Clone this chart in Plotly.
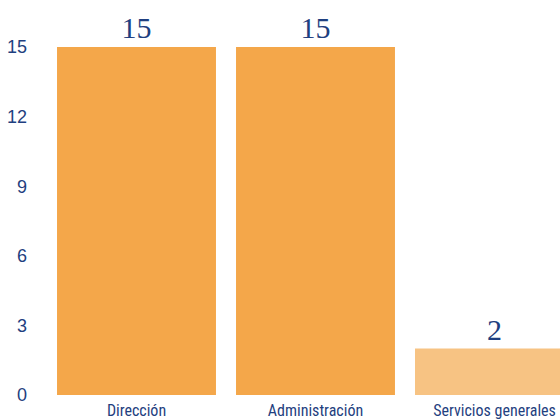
import plotly.graph_objects as go

categories = ["Dirección", "Administración", "Servicios generales"]
values = [15, 15, 2]
bar_colors = ["#F4A74A", "#F4A74A", "#F7C383"]
y_ticks = [0, 3, 6, 9, 12, 15]

navy = "#1F3F80"

fig = go.Figure(go.Bar(
    x=categories, y=values,
    marker=dict(color=bar_colors, line=dict(width=0)),
    text=[str(v) for v in values],
    textposition="outside",
    textfont=dict(family="Liberation Serif", size=30, color=navy),
    cliponaxis=False,
))

fig.update_layout(
    width=560, height=419,
    margin=dict(l=47, r=0, t=0, b=24, autoexpand=False),
    paper_bgcolor="white", plot_bgcolor="white",
    bargap=0.112,
    showlegend=False,
)
fig.update_xaxes(
    range=[-0.5, 2.366], automargin=False,
    showgrid=False, zeroline=False, showline=False,
    tickfont=dict(family="Liberation Sans Narrow, Roboto Condensed, Liberation Sans", size=16, color=navy),
    ticks="", ticklabelstandoff=4,
)
fig.update_yaxes(
    range=[0, 17.03], automargin=False,
    tickvals=y_ticks,
    showgrid=False, zeroline=False, showline=False,
    tickfont=dict(family="Liberation Sans Narrow, Liberation Sans", size=18, color=navy),
    ticks="", ticklabelstandoff=19,
)

fig.write_html(
    "out.html",
    config={"displayModeBar": False},
    post_script="document.body.style.margin='0';document.body.style.overflow='hidden';",
)
